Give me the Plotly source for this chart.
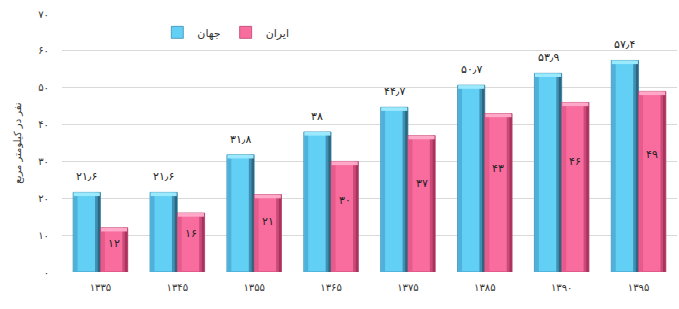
import plotly.graph_objects as go

years = [1335, 1345, 1355, 1365, 1375, 1385, 1390, 1395]
world = [21.6, 21.6, 31.8, 38, 44.7, 50.7, 53.9, 57.4]
iran = [12, 16, 21, 30, 37, 43, 46, 49]
series_names = ["جهان", "ایران"]
y_title = "نفر در کیلومتر مربع"
y_ticks = [0, 10, 20, 30, 40, 50, 60, 70]

FA = str.maketrans("0123456789.", "۰۱۲۳۴۵۶۷۸۹٫")
def fa(v):
    s = f"{v:g}"
    return s.translate(FA)

FONT = "DejaVu Sans"
n = len(years)
idx = list(range(n))
W = 0.355
cap = 1.0

styles = [
    dict(main="#62D0F5", left="#4FB0DA", right1="#3F8FB2", right2="#2C6680", top="#9BE9FC", line="#3C8DB2"),
    dict(main="#F86C9E", left="#E65A8C", right1="#CC4A7A", right2="#A8345E", top="#FFA8C8", line="#B84470"),
]

fig = go.Figure()
for k, (vals, st) in enumerate(zip([world, iran], styles)):
    off = -W if k == 0 else 0.0
    fig.add_trace(go.Bar(x=idx, y=vals, width=[W] * n, offset=[off] * n,
                         marker=dict(color=st["main"], line=dict(color=st["line"], width=0.8)),
                         name=series_names[k], showlegend=True, hoverinfo="skip"))
    fig.add_trace(go.Bar(x=idx, y=vals, width=[0.05] * n, offset=[off + 0.008] * n,
                         marker=dict(color=st["left"], line=dict(width=0)),
                         showlegend=False, hoverinfo="skip"))
    fig.add_trace(go.Bar(x=idx, y=vals, width=[0.035] * n, offset=[off + W - 0.07] * n,
                         marker=dict(color=st["right1"], line=dict(width=0)),
                         showlegend=False, hoverinfo="skip"))
    fig.add_trace(go.Bar(x=idx, y=vals, width=[0.035] * n, offset=[off + W - 0.037] * n,
                         marker=dict(color=st["right2"], line=dict(width=0)),
                         showlegend=False, hoverinfo="skip"))
    fig.add_trace(go.Bar(x=idx, y=[cap] * n, base=[v - cap for v in vals],
                         width=[W - 0.016] * n, offset=[off + 0.008] * n,
                         marker=dict(color=st["top"], line=dict(width=0)),
                         showlegend=False, hoverinfo="skip"))

annotations = []
for i in idx:
    annotations.append(dict(x=i - W / 2, y=world[i], text=fa(world[i]), showarrow=False,
                            yanchor="bottom", yshift=7,
                            font=dict(family=FONT, size=11, color="#222")))
    annotations.append(dict(x=i + W / 2, y=iran[i] * 0.65, text=fa(iran[i]), showarrow=False,
                            yanchor="middle",
                            font=dict(family=FONT, size=11, color="#222")))

fig.update_layout(
    width=679, height=309,
    margin=dict(l=62, r=2, t=14, b=37),
    paper_bgcolor="white", plot_bgcolor="white",
    barmode="overlay",
    font=dict(family=FONT, size=10, color="#333"),
    showlegend=True,
    legend=dict(orientation="h", x=0.155, y=0.985, xanchor="left", yanchor="top",
                font=dict(family=FONT, size=11, color="#333"),
                bgcolor="rgba(0,0,0,0)", itemwidth=30),
    annotations=annotations,
)
fig.update_xaxes(range=[-0.5, n - 0.5], tickvals=idx, ticktext=[fa(y) for y in years],
                 showgrid=False, zeroline=False, showline=False, ticks="",
                 tickfont=dict(family=FONT, size=10, color="#333"), ticklabelstandoff=8)
fig.update_yaxes(range=[0, 70], tickvals=y_ticks, ticktext=[fa(t) for t in y_ticks],
                 showgrid=True, gridcolor="#D9D9D9", gridwidth=1, zeroline=False,
                 showline=False, ticks="", tickfont=dict(family=FONT, size=10, color="#333"),
                 ticklabelstandoff=12,
                 title=dict(text=y_title, font=dict(family=FONT, size=10, color="#333"), standoff=14))

fig.write_html("out.html")
